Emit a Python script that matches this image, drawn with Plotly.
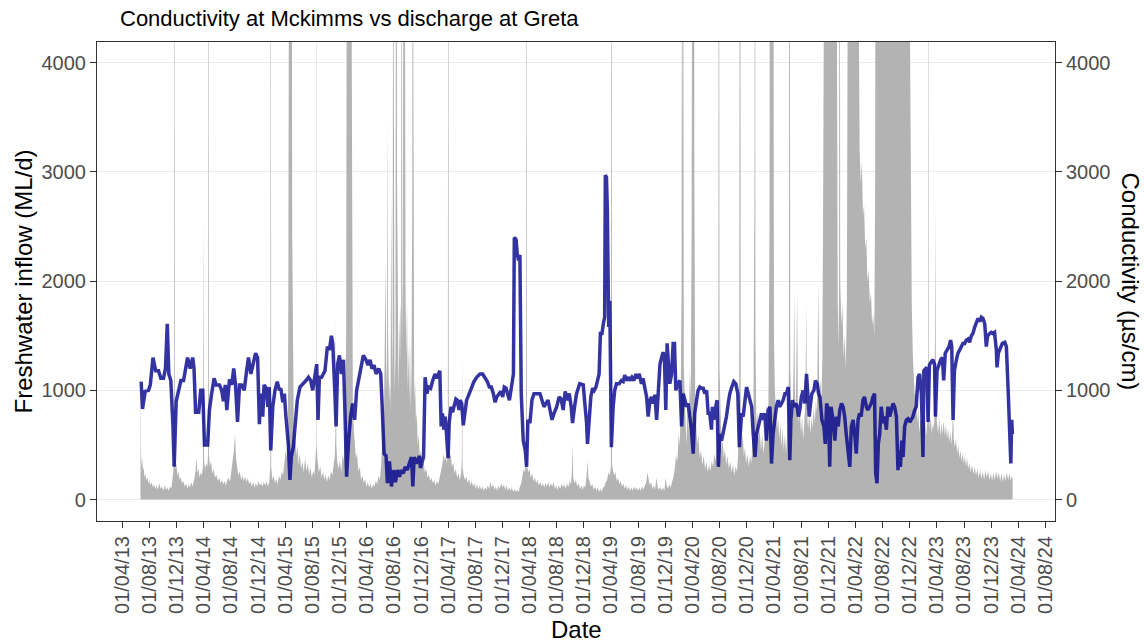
import plotly.graph_objects as go

# Conductivity at Mckimms (µs/cm)
conductivity_obs = [
    ("2013-06-25", 1080), ("2013-07-01", 830), ("2013-07-13", 990), ("2013-07-28", 1000),
    ("2013-08-05", 1050), ("2013-08-17", 1300), ("2013-08-29", 1180), ("2013-09-11", 1180),
    ("2013-09-21", 1110), ("2013-10-03", 1110), ("2013-10-12", 1200), ("2013-10-20", 1610),
    ("2013-10-27", 1150), ("2013-11-05", 1090), ("2013-11-14", 700), ("2013-11-20", 300),
    ("2013-11-29", 900), ("2013-12-08", 1000), ("2013-12-20", 1090), ("2014-01-01", 1090),
    ("2014-01-10", 1200), ("2014-01-19", 1300), ("2014-01-31", 1200), ("2014-02-11", 1300),
    ("2014-02-17", 1200), ("2014-02-24", 800), ("2014-03-10", 800), ("2014-03-19", 1000),
    ("2014-03-28", 1000), ("2014-04-05", 500), ("2014-04-19", 500), ("2014-04-27", 820),
    ("2014-05-07", 970), ("2014-05-18", 1110), ("2014-05-27", 1050), ("2014-06-11", 1050),
    ("2014-06-21", 1000), ("2014-06-29", 900), ("2014-07-07", 1050), ("2014-07-14", 820),
    ("2014-07-26", 1100), ("2014-08-05", 1050), ("2014-08-14", 1200), ("2014-08-22", 1050),
    ("2014-08-31", 710), ("2014-09-09", 1050), ("2014-09-18", 1050), ("2014-09-30", 1000),
    ("2014-10-09", 1150), ("2014-10-19", 1300), ("2014-10-30", 1150), ("2014-11-08", 1250),
    ("2014-11-20", 1340), ("2014-11-29", 1300), ("2014-12-07", 690), ("2014-12-13", 970),
    ("2014-12-22", 760), ("2014-12-28", 1050), ("2015-01-06", 1020), ("2015-01-14", 850),
    ("2015-01-20", 1030), ("2015-01-27", 450), ("2015-02-05", 850), ("2015-02-15", 1000),
    ("2015-02-25", 1080), ("2015-03-07", 1000), ("2015-03-13", 1020), ("2015-03-22", 890),
    ("2015-03-29", 970), ("2015-04-05", 760), ("2015-04-16", 500), ("2015-04-23", 180),
    ("2015-04-29", 390), ("2015-05-08", 480), ("2015-05-16", 670), ("2015-05-26", 910),
    ("2015-06-07", 1030), ("2015-06-22", 1060), ("2015-07-04", 1090), ("2015-07-15", 1120),
    ("2015-07-25", 1090), ("2015-08-03", 1000), ("2015-08-14", 1150), ("2015-08-21", 1240),
    ("2015-08-27", 730), ("2015-09-02", 1120), ("2015-09-12", 1120), ("2015-09-27", 1180),
    ("2015-10-08", 1400), ("2015-10-17", 1370), ("2015-10-26", 1500), ("2015-11-01", 1430),
    ("2015-11-10", 1000), ("2015-11-16", 670), ("2015-11-23", 1240), ("2015-12-01", 1320),
    ("2015-12-10", 1150), ("2015-12-19", 1280), ("2015-12-25", 850), ("2016-01-02", 210),
    ("2016-01-11", 540), ("2016-01-20", 760), ("2016-01-29", 880), ("2016-02-07", 730),
    ("2016-02-16", 1000), ("2016-02-25", 1090), ("2016-03-05", 1210), ("2016-03-17", 1320),
    ("2016-03-29", 1280), ("2016-04-07", 1230), ("2016-04-16", 1280), ("2016-04-25", 1200),
    ("2016-05-04", 1230), ("2016-05-13", 1150), ("2016-05-25", 1200), ("2016-06-03", 1150),
    ("2016-06-09", 880), ("2016-06-18", 420), ("2016-06-27", 400), ("2016-07-03", 150),
    ("2016-07-12", 350), ("2016-07-21", 120), ("2016-07-30", 270), ("2016-08-08", 160),
    ("2016-08-17", 270), ("2016-08-26", 210), ("2016-09-04", 270), ("2016-09-12", 240),
    ("2016-09-21", 300), ("2016-09-30", 270), ("2016-10-09", 330), ("2016-10-19", 390),
    ("2016-10-25", 120), ("2016-10-31", 390), ("2016-11-09", 330), ("2016-11-18", 370),
    ("2016-11-24", 400), ("2016-11-28", 290), ("2016-12-04", 330), ("2016-12-12", 390),
    ("2016-12-19", 1120), ("2016-12-27", 970), ("2017-01-03", 1030), ("2017-01-13", 1020),
    ("2017-01-22", 1090), ("2017-02-02", 1150), ("2017-02-08", 1110), ("2017-02-16", 1150),
    ("2017-02-23", 1180), ("2017-03-01", 670), ("2017-03-07", 790), ("2017-03-13", 640),
    ("2017-03-19", 760), ("2017-03-25", 600), ("2017-04-01", 380), ("2017-04-06", 700),
    ("2017-04-14", 850), ("2017-04-21", 800), ("2017-04-29", 880), ("2017-05-06", 920),
    ("2017-05-12", 910), ("2017-05-20", 820), ("2017-05-24", 910), ("2017-06-01", 880),
    ("2017-06-08", 680), ("2017-06-16", 820), ("2017-06-23", 910), ("2017-07-05", 970),
    ("2017-07-16", 1030), ("2017-07-26", 1080), ("2017-08-07", 1120), ("2017-08-22", 1150),
    ("2017-09-03", 1150), ("2017-09-13", 1120), ("2017-09-24", 1080), ("2017-10-03", 1030),
    ("2017-10-12", 1030), ("2017-10-21", 970), ("2017-10-29", 890), ("2017-11-05", 940),
    ("2017-11-14", 960), ("2017-11-23", 990), ("2017-12-02", 940), ("2017-12-09", 1030),
    ("2017-12-17", 1020), ("2017-12-23", 970), ("2018-01-01", 910), ("2018-01-10", 1030),
    ("2018-01-19", 1150), ("2018-01-23", 2400), ("2018-01-31", 2380), ("2018-02-05", 2250),
    ("2018-02-11", 2190), ("2018-02-17", 2240), ("2018-02-23", 970), ("2018-03-04", 540),
    ("2018-03-13", 450), ("2018-03-19", 300), ("2018-03-25", 730), ("2018-04-03", 700),
    ("2018-04-12", 910), ("2018-04-21", 970), ("2018-04-30", 970), ("2018-05-09", 970),
    ("2018-05-18", 970), ("2018-05-27", 910), ("2018-06-05", 850), ("2018-06-14", 880),
    ("2018-06-23", 910), ("2018-07-02", 820), ("2018-07-11", 730), ("2018-07-20", 790),
    ("2018-08-01", 850), ("2018-08-12", 940), ("2018-08-21", 920), ("2018-08-30", 820),
    ("2018-09-08", 990), ("2018-09-17", 910), ("2018-09-26", 970), ("2018-10-05", 850),
    ("2018-10-11", 700), ("2018-10-20", 850), ("2018-10-29", 970), ("2018-11-12", 1060),
    ("2018-11-21", 1050), ("2018-11-28", 1050), ("2018-12-05", 880), ("2018-12-13", 700),
    ("2018-12-17", 510), ("2018-12-25", 820), ("2019-01-01", 940), ("2019-01-09", 1020),
    ("2019-01-16", 1000), ("2019-01-24", 1030), ("2019-01-31", 1090), ("2019-02-07", 1150),
    ("2019-02-13", 1520), ("2019-02-20", 1520), ("2019-02-26", 1610), ("2019-03-04", 1670),
    ("2019-03-07", 2970), ("2019-03-12", 2950), ("2019-03-16", 2660), ("2019-03-19", 1860),
    ("2019-03-22", 1580), ("2019-03-27", 1820), ("2019-04-01", 1150), ("2019-04-03", 480),
    ("2019-04-11", 850), ("2019-04-18", 1000), ("2019-04-26", 1060), ("2019-05-08", 1060),
    ("2019-05-18", 1090), ("2019-05-26", 1080), ("2019-06-02", 1140), ("2019-06-10", 1090),
    ("2019-06-19", 1120), ("2019-06-25", 1090), ("2019-07-04", 1120), ("2019-07-13", 1090),
    ("2019-07-22", 1150), ("2019-07-29", 1110), ("2019-08-06", 1150), ("2019-08-16", 1060),
    ("2019-08-23", 1110), ("2019-08-31", 1030), ("2019-09-08", 940), ("2019-09-15", 760),
    ("2019-09-23", 910), ("2019-09-30", 940), ("2019-10-08", 880), ("2019-10-15", 960),
    ("2019-10-23", 730), ("2019-10-30", 970), ("2019-11-07", 1240), ("2019-11-14", 1300),
    ("2019-11-21", 1350), ("2019-11-27", 1300), ("2019-12-03", 820), ("2019-12-09", 1430),
    ("2019-12-15", 1280), ("2019-12-21", 1060), ("2019-12-29", 1150), ("2020-01-05", 1430),
    ("2020-01-11", 1430), ("2020-01-17", 1000), ("2020-01-25", 1060), ("2020-02-04", 1090),
    ("2020-02-12", 670), ("2020-02-19", 970), ("2020-02-27", 910), ("2020-03-05", 850),
    ("2020-03-12", 880), ("2020-03-20", 760), ("2020-03-27", 640), ("2020-04-04", 420),
    ("2020-04-11", 790), ("2020-04-19", 910), ("2020-04-26", 1000), ("2020-05-04", 1030),
    ("2020-05-11", 1020), ("2020-05-19", 1020), ("2020-05-26", 970), ("2020-06-03", 1000),
    ("2020-06-10", 790), ("2020-06-17", 790), ("2020-06-25", 640), ("2020-06-29", 850),
    ("2020-07-05", 730), ("2020-07-14", 850), ("2020-07-20", 910), ("2020-07-26", 300),
    ("2020-08-01", 600), ("2020-08-09", 540), ("2020-08-16", 600), ("2020-08-24", 670),
    ("2020-08-31", 760), ("2020-09-08", 880), ("2020-09-15", 970), ("2020-09-24", 1030),
    ("2020-10-03", 1080), ("2020-10-12", 1060), ("2020-10-21", 970), ("2020-10-28", 480),
    ("2020-11-07", 790), ("2020-11-14", 760), ("2020-11-22", 910), ("2020-11-29", 1030),
    ("2020-12-07", 970), ("2020-12-14", 910), ("2020-12-22", 850), ("2020-12-29", 600),
    ("2021-01-06", 390), ("2021-01-13", 600), ("2021-01-21", 670), ("2021-01-28", 730),
    ("2021-02-04", 790), ("2021-02-11", 730), ("2021-02-19", 790), ("2021-02-26", 540),
    ("2021-03-06", 820), ("2021-03-14", 850), ("2021-03-21", 330), ("2021-03-28", 600),
    ("2021-04-05", 760), ("2021-04-12", 850), ("2021-04-20", 910), ("2021-04-27", 850),
    ("2021-05-05", 880), ("2021-05-12", 910), ("2021-05-20", 970), ("2021-05-27", 970),
    ("2021-06-04", 1030), ("2021-06-11", 360), ("2021-06-16", 730), ("2021-06-23", 910),
    ("2021-06-29", 850), ("2021-07-08", 880), ("2021-07-14", 850), ("2021-07-20", 760),
    ("2021-07-26", 820), ("2021-08-02", 940), ("2021-08-10", 1000), ("2021-08-17", 880),
    ("2021-08-25", 1150), ("2021-08-31", 1000), ("2021-09-06", 760), ("2021-09-12", 880),
    ("2021-09-18", 970), ("2021-09-27", 1000), ("2021-10-04", 1090), ("2021-10-12", 1060),
    ("2021-10-18", 970), ("2021-10-24", 940), ("2021-11-02", 730), ("2021-11-11", 670),
    ("2021-11-17", 510), ("2021-11-23", 880), ("2021-12-01", 820), ("2021-12-07", 300),
    ("2021-12-13", 850), ("2021-12-22", 730), ("2021-12-30", 540), ("2022-01-06", 760),
    ("2022-01-14", 670), ("2022-01-21", 820), ("2022-01-29", 880), ("2022-02-05", 850),
    ("2022-02-12", 760), ("2022-02-19", 600), ("2022-02-27", 420), ("2022-03-07", 300),
    ("2022-03-14", 670), ("2022-03-22", 730), ("2022-03-29", 600), ("2022-04-05", 420),
    ("2022-04-13", 730), ("2022-04-20", 790), ("2022-04-27", 760), ("2022-05-05", 910),
    ("2022-05-12", 940), ("2022-05-20", 850), ("2022-05-27", 820), ("2022-06-04", 850),
    ("2022-06-11", 880), ("2022-06-19", 940), ("2022-06-26", 970), ("2022-07-01", 240),
    ("2022-07-07", 150), ("2022-07-13", 510), ("2022-07-19", 600), ("2022-07-26", 850),
    ("2022-08-03", 700), ("2022-08-10", 760), ("2022-08-18", 640), ("2022-08-25", 850),
    ("2022-09-02", 760), ("2022-09-09", 820), ("2022-09-17", 880), ("2022-09-24", 850),
    ("2022-10-02", 760), ("2022-10-09", 270), ("2022-10-15", 450), ("2022-10-20", 300),
    ("2022-10-26", 540), ("2022-11-01", 390), ("2022-11-08", 670), ("2022-11-16", 730),
    ("2022-11-23", 740), ("2022-12-01", 710), ("2022-12-08", 730), ("2022-12-15", 760),
    ("2022-12-23", 820), ("2022-12-30", 850), ("2023-01-07", 1120), ("2023-01-14", 1150),
    ("2023-01-22", 970), ("2023-01-29", 390), ("2023-02-02", 1180), ("2023-02-09", 1200),
    ("2023-02-15", 1210), ("2023-02-21", 710), ("2023-02-27", 1230), ("2023-03-07", 1260),
    ("2023-03-14", 1280), ("2023-03-22", 1240), ("2023-03-26", 760), ("2023-04-02", 1180),
    ("2023-04-11", 1230), ("2023-04-18", 1280), ("2023-04-26", 1300), ("2023-05-02", 1090),
    ("2023-05-09", 1340), ("2023-05-17", 1370), ("2023-05-26", 1400), ("2023-06-02", 1460),
    ("2023-06-07", 1400), ("2023-06-13", 730), ("2023-06-19", 1180), ("2023-06-28", 1280),
    ("2023-07-05", 1340), ("2023-07-13", 1370), ("2023-07-20", 1400), ("2023-07-27", 1430),
    ("2023-08-04", 1430), ("2023-08-11", 1460), ("2023-08-19", 1470), ("2023-08-26", 1440),
    ("2023-09-03", 1500), ("2023-09-10", 1520), ("2023-09-18", 1580), ("2023-09-25", 1610),
    ("2023-10-03", 1660), ("2023-10-11", 1630), ("2023-10-18", 1670), ("2023-10-25", 1660),
    ("2023-11-02", 1610), ("2023-11-09", 1400), ("2023-11-15", 1500), ("2023-11-24", 1520),
    ("2023-12-01", 1530), ("2023-12-09", 1520), ("2023-12-16", 1530), ("2023-12-24", 1370),
    ("2023-12-27", 1210), ("2024-01-02", 1340), ("2024-01-11", 1380), ("2024-01-20", 1430),
    ("2024-01-31", 1440), ("2024-02-07", 1400), ("2024-02-15", 1000), ("2024-02-22", 540),
    ("2024-02-27", 330), ("2024-03-02", 730), ("2024-03-05", 600),
]

# Freshwater inflow at Greta (ML/d)
inflow_obs = [
    # 2013
    ("2013-06-22", 500), ("2013-06-23", 1300), ("2013-06-24", 450), ("2013-06-27", 300),
    ("2013-06-30", 380),
    ("2013-07-03", 260), ("2013-07-06", 300), ("2013-07-10", 200), ("2013-07-14", 240),
    ("2013-07-18", 170), ("2013-07-22", 210), ("2013-07-27", 150), ("2013-08-01", 180),
    ("2013-08-06", 130), ("2013-08-11", 160), ("2013-08-16", 110), ("2013-08-21", 140),
    ("2013-08-27", 100), ("2013-09-02", 130), ("2013-09-08", 90), ("2013-09-14", 150),
    ("2013-09-20", 100), ("2013-09-26", 120), ("2013-10-02", 80), ("2013-10-08", 130),
    ("2013-10-14", 90), ("2013-10-20", 110), ("2013-10-26", 80), ("2013-11-01", 120),
    ("2013-11-07", 100), ("2013-11-12", 180), ("2013-11-16", 250), ("2013-11-19", 360),
    ("2013-11-21", 9000), ("2013-11-23", 400), ("2013-11-26", 280), ("2013-11-30", 330),
    ("2013-12-04", 220), ("2013-12-09", 260), ("2013-12-14", 180), ("2013-12-19", 210),
    ("2013-12-25", 150), ("2013-12-31", 170),
    # 2014
    ("2014-01-06", 120), ("2014-01-12", 150), ("2014-01-18", 100), ("2014-01-24", 140),
    ("2014-01-30", 110), ("2014-02-05", 160), ("2014-02-11", 120), ("2014-02-17", 180),
    ("2014-02-23", 250), ("2014-02-28", 380), ("2014-03-04", 240), ("2014-03-09", 280),
    ("2014-03-14", 200), ("2014-03-19", 250), ("2014-03-24", 220), ("2014-03-29", 300),
    ("2014-04-01", 2600), ("2014-04-03", 350), ("2014-04-08", 280), ("2014-04-13", 330),
    ("2014-04-18", 300), ("2014-04-21", 420), ("2014-04-23", 9000), ("2014-04-25", 420),
    ("2014-04-29", 300), ("2014-05-04", 350), ("2014-05-10", 240), ("2014-05-16", 280),
    ("2014-05-22", 200), ("2014-05-28", 230), ("2014-06-04", 170), ("2014-06-10", 200),
    ("2014-06-16", 150), ("2014-06-22", 180), ("2014-06-28", 140), ("2014-07-04", 170),
    ("2014-07-10", 130), ("2014-07-16", 180), ("2014-07-22", 200), ("2014-07-28", 160),
    ("2014-08-03", 260), ("2014-08-09", 350), ("2014-08-15", 450), ("2014-08-20", 600),
    ("2014-08-24", 380), ("2014-08-29", 300), ("2014-09-04", 220), ("2014-09-10", 260),
    ("2014-09-16", 180), ("2014-09-22", 220), ("2014-09-28", 170), ("2014-10-04", 210),
    ("2014-10-10", 160), ("2014-10-16", 200), ("2014-10-22", 140), ("2014-10-28", 170),
    ("2014-11-03", 120), ("2014-11-09", 160), ("2014-11-15", 110), ("2014-11-21", 150),
    ("2014-11-27", 120), ("2014-12-03", 170), ("2014-12-09", 130), ("2014-12-15", 150),
    ("2014-12-21", 120), ("2014-12-27", 160),
    # 2015
    ("2015-01-02", 130), ("2015-01-08", 170), ("2015-01-14", 120), ("2015-01-20", 160),
    ("2015-01-25", 300), ("2015-01-27", 8000), ("2015-01-29", 300), ("2015-02-03", 180),
    ("2015-02-09", 220), ("2015-02-15", 150), ("2015-02-21", 190), ("2015-02-27", 140),
    ("2015-03-05", 220), ("2015-03-11", 180), ("2015-03-17", 260), ("2015-03-23", 220),
    ("2015-03-29", 320), ("2015-04-04", 450), ("2015-04-10", 380), ("2015-04-14", 700),
    ("2015-04-16", 2000), ("2015-04-18", 9000), ("2015-04-21", 5000), ("2015-04-24", 12000),
    ("2015-04-27", 6000), ("2015-04-30", 8000), ("2015-05-03", 2500), ("2015-05-07", 900),
    ("2015-05-11", 500), ("2015-05-16", 650), ("2015-05-21", 400), ("2015-05-26", 500),
    ("2015-06-01", 320), ("2015-06-06", 420), ("2015-06-12", 280), ("2015-06-18", 350),
    ("2015-06-24", 250), ("2015-06-30", 380), ("2015-07-06", 260), ("2015-07-12", 330),
    ("2015-07-18", 230), ("2015-07-24", 300), ("2015-07-30", 200), ("2015-08-05", 260),
    ("2015-08-11", 230), ("2015-08-16", 400), ("2015-08-19", 500), ("2015-08-20", 8000),
    ("2015-08-21", 500), ("2015-08-25", 350), ("2015-08-31", 250), ("2015-09-06", 300),
    ("2015-09-12", 200), ("2015-09-18", 260), ("2015-09-24", 180), ("2015-09-30", 230),
    ("2015-10-06", 160), ("2015-10-12", 220), ("2015-10-18", 180), ("2015-10-24", 260),
    ("2015-10-30", 220), ("2015-11-05", 320), ("2015-11-10", 400), ("2015-11-13", 600),
    ("2015-11-15", 1700), ("2015-11-17", 500), ("2015-11-21", 350), ("2015-11-27", 280),
    ("2015-12-03", 360), ("2015-12-09", 250), ("2015-12-15", 420), ("2015-12-21", 350),
    ("2015-12-26", 600), ("2015-12-31", 1500),
    # 2016
    ("2016-01-04", 7000), ("2016-01-10", 15000), ("2016-01-16", 10000), ("2016-01-22", 6000),
    ("2016-01-26", 1500), ("2016-01-30", 900), ("2016-02-03", 650), ("2016-02-08", 500),
    ("2016-02-13", 380), ("2016-02-18", 420), ("2016-02-24", 260), ("2016-03-01", 300),
    ("2016-03-07", 180), ("2016-03-13", 220), ("2016-03-19", 150), ("2016-03-25", 190),
    ("2016-03-31", 120), ("2016-04-06", 160), ("2016-04-12", 110), ("2016-04-18", 150),
    ("2016-04-24", 100), ("2016-04-30", 140), ("2016-05-06", 120), ("2016-05-12", 170),
    ("2016-05-18", 140), ("2016-05-24", 220), ("2016-05-30", 180), ("2016-06-05", 320),
    ("2016-06-09", 500), ("2016-06-12", 1200), ("2016-06-15", 600), ("2016-06-18", 800),
    ("2016-06-22", 1400), ("2016-06-25", 2200), ("2016-06-28", 1000), ("2016-07-01", 1300),
    ("2016-07-04", 3500), ("2016-07-06", 1500), ("2016-07-10", 900), ("2016-07-14", 1100),
    ("2016-07-17", 800), ("2016-07-20", 2800), ("2016-07-23", 1600), ("2016-07-26", 1100),
    ("2016-07-29", 6000), ("2016-08-01", 1800), ("2016-08-04", 1000), ("2016-08-08", 1300),
    ("2016-08-12", 9000), ("2016-08-15", 3000), ("2016-08-18", 1400), ("2016-08-22", 1000),
    ("2016-08-26", 1500), ("2016-08-30", 1800), ("2016-09-02", 1200), ("2016-09-05", 7000),
    ("2016-09-08", 2000), ("2016-09-11", 1400), ("2016-09-14", 10000), ("2016-09-17", 4000),
    ("2016-09-19", 6000), ("2016-09-22", 2000), ("2016-09-25", 1300), ("2016-09-29", 1800),
    ("2016-10-02", 1000), ("2016-10-05", 1400), ("2016-10-09", 900), ("2016-10-12", 1500),
    ("2016-10-16", 800), ("2016-10-19", 1200), ("2016-10-22", 2500), ("2016-10-25", 6000),
    ("2016-10-28", 1500), ("2016-10-31", 900), ("2016-11-04", 1100), ("2016-11-08", 700),
    ("2016-11-12", 800), ("2016-11-16", 500), ("2016-11-20", 600), ("2016-11-25", 400),
    ("2016-11-30", 450), ("2016-12-06", 300), ("2016-12-12", 350), ("2016-12-18", 250),
    ("2016-12-24", 280), ("2016-12-30", 200),
    # 2017
    ("2017-01-05", 230), ("2017-01-11", 170), ("2017-01-17", 200), ("2017-01-23", 150),
    ("2017-01-29", 180), ("2017-02-04", 130), ("2017-02-10", 170), ("2017-02-16", 140),
    ("2017-02-22", 200), ("2017-02-28", 260), ("2017-03-06", 320), ("2017-03-12", 420),
    ("2017-03-17", 350), ("2017-03-22", 400), ("2017-03-27", 330), ("2017-03-31", 500),
    ("2017-04-02", 9000), ("2017-04-04", 500), ("2017-04-08", 380), ("2017-04-13", 420),
    ("2017-04-18", 300), ("2017-04-24", 340), ("2017-04-30", 240), ("2017-05-06", 280),
    ("2017-05-12", 200), ("2017-05-18", 240), ("2017-05-24", 180), ("2017-05-30", 250),
    ("2017-06-02", 400), ("2017-06-03", 1340), ("2017-06-05", 300), ("2017-06-10", 220),
    ("2017-06-16", 180), ("2017-06-22", 210), ("2017-06-28", 150), ("2017-07-04", 190),
    ("2017-07-10", 130), ("2017-07-16", 170), ("2017-07-22", 120), ("2017-07-28", 150),
    ("2017-08-03", 100), ("2017-08-09", 140), ("2017-08-15", 90), ("2017-08-21", 130),
    ("2017-08-27", 90), ("2017-09-02", 120), ("2017-09-08", 80), ("2017-09-14", 110),
    ("2017-09-20", 90), ("2017-09-26", 130), ("2017-10-02", 100), ("2017-10-08", 160),
    ("2017-10-14", 110), ("2017-10-20", 140), ("2017-10-26", 90), ("2017-11-01", 120),
    ("2017-11-07", 80), ("2017-11-13", 130), ("2017-11-19", 100), ("2017-11-25", 150),
    ("2017-12-01", 110), ("2017-12-07", 140), ("2017-12-13", 90), ("2017-12-19", 130),
    ("2017-12-25", 80), ("2017-12-31", 110),
    # 2018
    ("2018-01-06", 80), ("2018-01-12", 110), ("2018-01-18", 70), ("2018-01-24", 100),
    ("2018-01-30", 70), ("2018-02-05", 90), ("2018-02-11", 70), ("2018-02-17", 120),
    ("2018-02-23", 150), ("2018-03-01", 230), ("2018-03-06", 280), ("2018-03-11", 250),
    ("2018-03-15", 320), ("2018-03-17", 280), ("2018-03-19", 9000), ("2018-03-21", 320),
    ("2018-03-26", 250), ("2018-04-01", 280), ("2018-04-07", 200), ("2018-04-13", 240),
    ("2018-04-19", 170), ("2018-04-25", 200), ("2018-05-01", 150), ("2018-05-07", 180),
    ("2018-05-13", 130), ("2018-05-19", 160), ("2018-05-25", 120), ("2018-05-31", 150),
    ("2018-06-06", 110), ("2018-06-12", 150), ("2018-06-18", 120), ("2018-06-24", 160),
    ("2018-06-30", 110), ("2018-07-06", 150), ("2018-07-12", 120), ("2018-07-18", 160),
    ("2018-07-24", 100), ("2018-07-30", 130), ("2018-08-05", 90), ("2018-08-11", 130),
    ("2018-08-17", 100), ("2018-08-23", 150), ("2018-08-29", 110), ("2018-09-04", 140),
    ("2018-09-10", 100), ("2018-09-16", 150), ("2018-09-22", 110), ("2018-09-28", 170),
    ("2018-10-04", 140), ("2018-10-08", 250), ("2018-10-11", 500), ("2018-10-14", 200),
    ("2018-10-20", 150), ("2018-10-26", 180), ("2018-11-01", 120), ("2018-11-07", 150),
    ("2018-11-13", 100), ("2018-11-19", 130), ("2018-11-25", 90), ("2018-12-01", 130),
    ("2018-12-07", 110), ("2018-12-12", 200), ("2018-12-17", 350), ("2018-12-21", 200),
    ("2018-12-27", 150),
    # 2019
    ("2019-01-02", 120), ("2019-01-08", 140), ("2019-01-14", 90), ("2019-01-20", 120),
    ("2019-01-26", 80), ("2019-02-01", 110), ("2019-02-07", 70), ("2019-02-13", 100),
    ("2019-02-19", 70), ("2019-02-25", 110), ("2019-03-03", 120), ("2019-03-09", 160),
    ("2019-03-15", 180), ("2019-03-21", 250), ("2019-03-27", 220), ("2019-04-01", 300),
    ("2019-04-04", 9000), ("2019-04-06", 320), ("2019-04-10", 260), ("2019-04-15", 220),
    ("2019-04-21", 250), ("2019-04-27", 170), ("2019-05-03", 200), ("2019-05-09", 140),
    ("2019-05-15", 170), ("2019-05-21", 120), ("2019-05-27", 150), ("2019-06-02", 100),
    ("2019-06-08", 130), ("2019-06-14", 90), ("2019-06-20", 120), ("2019-06-26", 80),
    ("2019-07-02", 110), ("2019-07-08", 80), ("2019-07-14", 120), ("2019-07-20", 90),
    ("2019-07-26", 110), ("2019-08-01", 80), ("2019-08-07", 110), ("2019-08-13", 80),
    ("2019-08-19", 120), ("2019-08-25", 90), ("2019-08-31", 130), ("2019-09-06", 150),
    ("2019-09-12", 250), ("2019-09-16", 200), ("2019-09-22", 130), ("2019-09-28", 160),
    ("2019-10-04", 100), ("2019-10-10", 130), ("2019-10-16", 90), ("2019-10-22", 200),
    ("2019-10-28", 110), ("2019-11-03", 90), ("2019-11-09", 120), ("2019-11-15", 80),
    ("2019-11-21", 110), ("2019-11-27", 80), ("2019-12-02", 200), ("2019-12-07", 130),
    ("2019-12-13", 100), ("2019-12-19", 140), ("2019-12-25", 110), ("2019-12-31", 160),
    # 2020
    ("2020-01-06", 200), ("2020-01-12", 280), ("2020-01-18", 400), ("2020-01-24", 350),
    ("2020-01-30", 600), ("2020-02-04", 500), ("2020-02-08", 900), ("2020-02-12", 2000),
    ("2020-02-14", 8000), ("2020-02-17", 3000), ("2020-02-19", 6000), ("2020-02-22", 1200),
    ("2020-02-26", 800), ("2020-03-01", 700), ("2020-03-05", 500), ("2020-03-10", 900),
    ("2020-03-15", 600), ("2020-03-20", 1200), ("2020-03-24", 900), ("2020-03-28", 2500),
    ("2020-04-02", 9000), ("2020-04-06", 12000), ("2020-04-09", 3000), ("2020-04-13", 900),
    ("2020-04-17", 700), ("2020-04-22", 500), ("2020-04-27", 600), ("2020-05-03", 380),
    ("2020-05-09", 450), ("2020-05-15", 320), ("2020-05-21", 400), ("2020-05-27", 280),
    ("2020-06-02", 350), ("2020-06-08", 250), ("2020-06-14", 320), ("2020-06-20", 260),
    ("2020-06-26", 350), ("2020-07-02", 300), ("2020-07-08", 420), ("2020-07-14", 350),
    ("2020-07-20", 500), ("2020-07-24", 650), ("2020-07-26", 1500), ("2020-07-28", 9000),
    ("2020-07-31", 1200), ("2020-08-04", 700), ("2020-08-09", 450), ("2020-08-14", 550),
    ("2020-08-19", 380), ("2020-08-24", 460), ("2020-08-30", 320), ("2020-09-05", 400),
    ("2020-09-11", 280), ("2020-09-17", 350), ("2020-09-23", 250), ("2020-09-29", 320),
    ("2020-10-05", 220), ("2020-10-11", 300), ("2020-10-17", 260), ("2020-10-22", 400),
    ("2020-10-27", 1000), ("2020-10-31", 9000), ("2020-11-03", 800), ("2020-11-07", 500),
    ("2020-11-12", 600), ("2020-11-17", 400), ("2020-11-22", 480), ("2020-11-27", 330),
    ("2020-12-03", 420), ("2020-12-09", 300), ("2020-12-15", 400), ("2020-12-21", 330),
    ("2020-12-26", 600), ("2020-12-30", 800),
    # 2021
    ("2021-01-04", 3000), ("2021-01-06", 9000), ("2021-01-08", 1500), ("2021-01-12", 700),
    ("2021-01-17", 800), ("2021-01-22", 550), ("2021-01-27", 650), ("2021-02-02", 450),
    ("2021-02-07", 600), ("2021-02-13", 420), ("2021-02-19", 550), ("2021-02-24", 700),
    ("2021-02-26", 900), ("2021-03-02", 650), ("2021-03-07", 800), ("2021-03-12", 2500),
    ("2021-03-16", 9000), ("2021-03-19", 5000), ("2021-03-22", 14000), ("2021-03-25", 6000),
    ("2021-03-28", 8000), ("2021-04-01", 1500), ("2021-04-05", 1000), ("2021-04-10", 800),
    ("2021-04-15", 650), ("2021-04-20", 750), ("2021-04-25", 550), ("2021-04-30", 700),
    ("2021-05-05", 480), ("2021-05-10", 650), ("2021-05-15", 450), ("2021-05-20", 600),
    ("2021-05-25", 420), ("2021-05-30", 600), ("2021-06-04", 800), ("2021-06-07", 1200),
    ("2021-06-10", 9000), ("2021-06-13", 1200), ("2021-06-17", 800), ("2021-06-21", 650),
    ("2021-06-25", 900), ("2021-06-28", 1200), ("2021-07-01", 1900), ("2021-07-04", 1000),
    ("2021-07-08", 800), ("2021-07-11", 1200), ("2021-07-14", 1900), ("2021-07-17", 900),
    ("2021-07-21", 700), ("2021-07-26", 850), ("2021-07-31", 600), ("2021-08-05", 750),
    ("2021-08-10", 550), ("2021-08-15", 700), ("2021-08-20", 900), ("2021-08-24", 1800),
    ("2021-08-27", 800), ("2021-09-01", 650), ("2021-09-06", 800), ("2021-09-11", 600),
    ("2021-09-16", 750), ("2021-09-21", 650), ("2021-09-26", 850), ("2021-10-01", 700),
    ("2021-10-06", 900), ("2021-10-11", 800), ("2021-10-17", 2000), ("2021-10-21", 900),
    ("2021-10-26", 1100), ("2021-10-31", 900), ("2021-11-04", 1300), ("2021-11-08", 3000),
    ("2021-11-12", 9000), ("2021-11-20", 12000), ("2021-12-01", 15000), ("2021-12-08", 20000),
    ("2021-12-15", 14000), ("2021-12-25", 10000),
    # 2022
    ("2022-01-03", 8000), ("2022-01-08", 3000), ("2022-01-12", 1800), ("2022-01-16", 1400),
    ("2022-01-18", 2000), ("2022-01-20", 9000), ("2022-01-23", 2000), ("2022-01-28", 1600),
    ("2022-02-02", 1800), ("2022-02-07", 1300), ("2022-02-12", 1500), ("2022-02-17", 1200),
    ("2022-02-22", 1800), ("2022-02-26", 5000), ("2022-03-01", 12000), ("2022-03-10", 20000),
    ("2022-03-20", 15000), ("2022-04-01", 9000), ("2022-04-12", 6000), ("2022-04-16", 3800),
    ("2022-04-20", 3200), ("2022-04-25", 2900), ("2022-04-30", 3100), ("2022-05-05", 2600),
    ("2022-05-10", 2700), ("2022-05-15", 2300), ("2022-05-20", 2400), ("2022-05-25", 2000),
    ("2022-05-30", 2100), ("2022-06-05", 1800), ("2022-06-10", 1900), ("2022-06-15", 1600),
    ("2022-06-20", 1700), ("2022-06-25", 1500), ("2022-06-29", 3000), ("2022-07-02", 12000),
    ("2022-07-10", 20000), ("2022-07-25", 25000), ("2022-08-10", 20000), ("2022-08-25", 22000),
    ("2022-09-10", 18000), ("2022-09-25", 20000), ("2022-10-10", 25000), ("2022-10-25", 18000),
    ("2022-11-10", 15000), ("2022-11-25", 9000), ("2022-12-01", 4500), ("2022-12-05", 3300),
    ("2022-12-10", 1760), ("2022-12-15", 1300), ("2022-12-19", 1100), ("2022-12-23", 950),
    ("2022-12-27", 1000), ("2022-12-31", 800),
    # 2023
    ("2023-01-04", 700), ("2023-01-08", 850), ("2023-01-13", 600), ("2023-01-18", 750),
    ("2023-01-23", 650), ("2023-01-28", 900), ("2023-02-02", 650), ("2023-02-07", 750),
    ("2023-02-12", 580), ("2023-02-17", 700), ("2023-02-21", 1200), ("2023-02-22", 9000),
    ("2023-02-24", 900), ("2023-02-28", 650), ("2023-03-05", 750), ("2023-03-10", 600),
    ("2023-03-15", 700), ("2023-03-20", 650), ("2023-03-24", 1500), ("2023-03-26", 2700),
    ("2023-03-28", 900), ("2023-04-02", 700), ("2023-04-07", 600), ("2023-04-12", 750),
    ("2023-04-17", 580), ("2023-04-22", 700), ("2023-04-27", 600), ("2023-05-02", 720),
    ("2023-05-07", 580), ("2023-05-12", 680), ("2023-05-17", 550), ("2023-05-22", 650),
    ("2023-05-27", 520), ("2023-06-01", 620), ("2023-06-06", 500), ("2023-06-10", 650),
    ("2023-06-13", 900), ("2023-06-16", 550), ("2023-06-21", 480), ("2023-06-26", 560),
    ("2023-07-01", 420), ("2023-07-06", 500), ("2023-07-11", 380), ("2023-07-16", 450),
    ("2023-07-21", 350), ("2023-07-26", 420), ("2023-07-31", 330), ("2023-08-05", 400),
    ("2023-08-10", 300), ("2023-08-15", 380), ("2023-08-20", 280), ("2023-08-25", 340),
    ("2023-08-31", 250), ("2023-09-06", 320), ("2023-09-12", 230), ("2023-09-18", 300),
    ("2023-09-24", 220), ("2023-09-30", 280), ("2023-10-06", 200), ("2023-10-12", 270),
    ("2023-10-18", 190), ("2023-10-24", 260), ("2023-10-30", 180), ("2023-11-05", 270),
    ("2023-11-11", 200), ("2023-11-17", 260), ("2023-11-23", 180), ("2023-11-29", 240),
    ("2023-12-05", 170), ("2023-12-11", 250), ("2023-12-17", 180), ("2023-12-23", 260),
    ("2023-12-29", 190),
    # 2024
    ("2024-01-04", 250), ("2024-01-10", 170), ("2024-01-16", 240), ("2024-01-22", 160),
    ("2024-01-28", 230), ("2024-02-03", 170), ("2024-02-09", 250), ("2024-02-15", 180),
    ("2024-02-21", 240), ("2024-02-27", 170), ("2024-03-02", 220), ("2024-03-06", 190),
]

cond_dates = [d for d, _ in conductivity_obs]
cond_values = [v for _, v in conductivity_obs]
flow_dates = [d for d, _ in inflow_obs]
flow_values = [v for _, v in inflow_obs]

y_ticks = [0, 1000, 2000, 3000, 4000]
y_range = [-196, 4189]
x_range = ["2012-12-09", "2024-09-12"]

FONT = "Liberation Sans, Arial, Helvetica, sans-serif"
TICK_GREY = "#4D4D4D"
BORDER = "#333333"

fig = go.Figure()

# discharge as a filled area on the left axis
fig.add_trace(go.Scatter(
    x=flow_dates, y=flow_values, mode="lines", fill="tozeroy",
    line=dict(width=0, color="#B3B3B3"), fillcolor="#B3B3B3",
    hoverinfo="skip", showlegend=False, yaxis="y",
))

# conductivity as a line on the right axis
fig.add_trace(go.Scatter(
    x=cond_dates, y=cond_values, mode="lines",
    line=dict(width=3.5, color="rgba(0,0,139,0.8)"),
    hoverinfo="skip", showlegend=False, yaxis="y2",
))

axis_common = dict(
    ticks="outside", ticklen=6, tickwidth=1.2, tickcolor=BORDER,
    tickfont=dict(family=FONT, size=20, color=TICK_GREY),
    zeroline=False,
)

fig.update_layout(
    width=1144, height=644,
    margin=dict(l=97, r=89, t=42, b=123, autoexpand=False),
    paper_bgcolor="white", plot_bgcolor="white",
    font=dict(family=FONT, color=TICK_GREY),
    title=dict(
        text="Conductivity at Mckimms vs discharge at Greta",
        xref="container", x=120 / 1144, xanchor="left",
        yref="container", y=1 - 18 / 644, yanchor="middle",
        font=dict(family=FONT, size=22, color="black"),
    ),
    xaxis=dict(
        type="date", range=x_range, tick0="2013-04-01", dtick="M4",
        tickformat="%d/%m/%y", tickangle=-90, showgrid=False,
        showline=True, linecolor=BORDER, linewidth=1.2, mirror=True,
        **axis_common,
    ),
    yaxis=dict(
        range=y_range, tickvals=y_ticks, showgrid=True,
        gridcolor="#EBEBEB", gridwidth=1.3,
        showline=True, linecolor=BORDER, linewidth=1.2, mirror=True,
        **axis_common,
    ),
    yaxis2=dict(
        range=y_range, tickvals=y_ticks, overlaying="y", side="right",
        showgrid=False, showline=False,
        **axis_common,
    ),
    annotations=[
        dict(text="Freshwater inflow (ML/d)", xref="paper", yref="paper",
             x=(23 - 97) / 958, y=0.5, xanchor="center", yanchor="middle",
             textangle=-90, showarrow=False,
             font=dict(family=FONT, size=24, color="black")),
        dict(text="Conductivity (µs/cm)", xref="paper", yref="paper",
             x=(1130 - 97) / 958, y=0.5, xanchor="center", yanchor="middle",
             textangle=90, showarrow=False,
             font=dict(family=FONT, size=24, color="black")),
        dict(text="Date", xref="paper", yref="paper",
             x=0.5, y=-(629 - 521) / 479, xanchor="center", yanchor="middle",
             showarrow=False,
             font=dict(family=FONT, size=24, color="black")),
    ],
)

fig.write_html("out.html")
